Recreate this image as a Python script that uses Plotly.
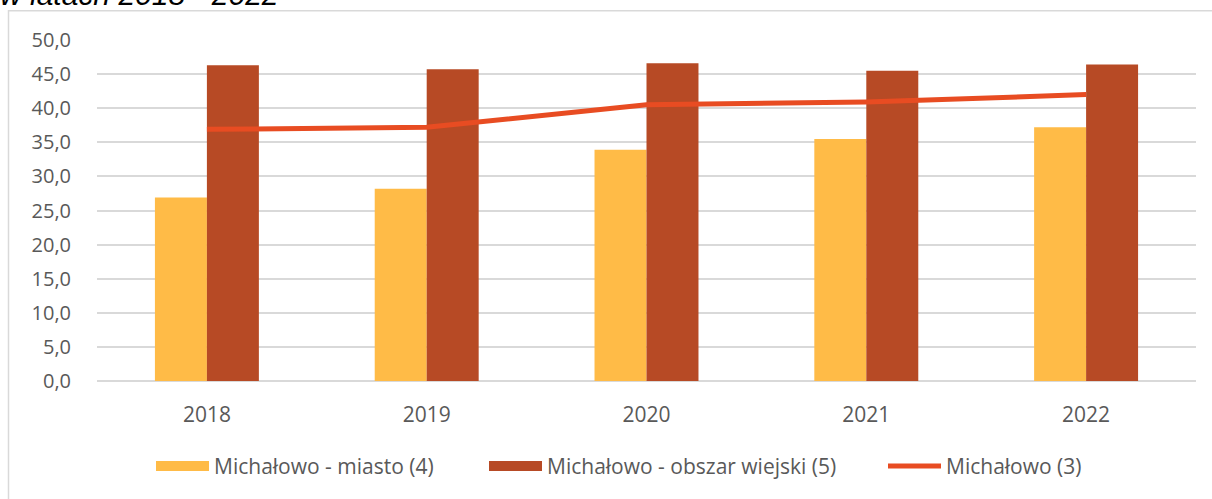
import plotly.graph_objects as go

years = ["2018", "2019", "2020", "2021", "2022"]
miasto = [26.9, 28.2, 33.9, 35.5, 37.2]
obszar = [46.3, 45.7, 46.6, 45.5, 46.4]
ogolem = [36.9, 37.2, 40.5, 40.9, 42.0]
y_ticks = [0, 5, 10, 15, 20, 25, 30, 35, 40, 45, 50]
y_tick_text = ["0,0", "5,0", "10,0", "15,0", "20,0", "25,0", "30,0", "35,0", "40,0", "45,0", "50,0"]

names = ["Michałowo - miasto (4)", "Michałowo - obszar wiejski (5)", "Michałowo (3)"]
colors = ["#FFBB47", "#B74A25", "#E84C22"]

W, H = 1212, 499
L, R, T, B = 97, 1196, 40, 384

def px_x(px):
    return (px - L) / (R - L)

def px_y(py):
    return (B - py) / (B - T)

fig = go.Figure()
fig.add_trace(go.Bar(x=years, y=miasto, name=names[0], legendgroup="a", showlegend=False,
                     marker=dict(color=colors[0], line=dict(width=0))))
fig.add_trace(go.Bar(x=years, y=obszar, name=names[1], legendgroup="b", showlegend=False,
                     marker=dict(color=colors[1], line=dict(width=0))))
fig.add_trace(go.Scatter(x=years, y=ogolem, name=names[2], mode="lines", showlegend=False,
                         legendgroup="c", line=dict(color=colors[2], width=5)))
# legend entries (legend-only swatches), one legend per entry for exact placement
fig.add_trace(go.Scatter(x=[None], y=[None], name=names[0], legendgroup="a", mode="lines",
                         legend="legend", line=dict(color=colors[0], width=14)))
fig.add_trace(go.Scatter(x=[None], y=[None], name=names[1], legendgroup="b", mode="lines",
                         legend="legend2", line=dict(color=colors[1], width=14)))
fig.add_trace(go.Scatter(x=[None], y=[None], name=names[2], legendgroup="c", mode="lines",
                         legend="legend3", line=dict(color=colors[2], width=5)))

leg_common = dict(orientation="h", xanchor="left", y=px_y(470), yanchor="middle",
                  font=dict(size=21, color="#595959"), itemwidth=53,
                  bgcolor="rgba(0,0,0,0)")

fig.update_layout(
    width=W, height=H,
    margin=dict(l=L, r=W - R, t=T, b=H - B),
    paper_bgcolor="white", plot_bgcolor="white",
    barmode="group", bargap=0.527, bargroupgap=0,
    font=dict(family="Open Sans, DejaVu Sans, sans-serif", size=18, color="#595959"),
    showlegend=True,
    legend=dict(x=px_x(151), **leg_common),
    legend2=dict(x=px_x(484), **leg_common),
    legend3=dict(x=px_x(883), **leg_common),
    xaxis=dict(showgrid=False, showline=False, ticks="", tickfont=dict(size=21),
               ticklabelstandoff=19),
    yaxis=dict(range=[0, 50], tickvals=y_ticks, ticktext=y_tick_text,
               showgrid=True, gridcolor="#D9D9D9", gridwidth=1.5,
               zeroline=True, zerolinecolor="#D9D9D9", zerolinewidth=1.5,
               showline=False, ticks="", ticklabelstandoff=25, tickfont=dict(size=20)),
    shapes=[dict(type="rect", xref="paper", yref="paper",
                 x0=px_x(8.5), x1=px_x(1220), y0=px_y(10.5), y1=px_y(510),
                 line=dict(color="#D9D9D9", width=1.5), fillcolor="rgba(0,0,0,0)", layer="below")],
    annotations=[dict(text="<i>w latach 2018 - 2022</i>", xref="paper", yref="paper",
                      x=px_x(-2), y=px_y(13), xanchor="left", yanchor="bottom", showarrow=False,
                      font=dict(family="Liberation Sans, Arial, sans-serif", size=30, color="black"))],
)

fig.write_html("out.html", config={"displayModeBar": False},
               post_script="document.body.style.margin='0';")
